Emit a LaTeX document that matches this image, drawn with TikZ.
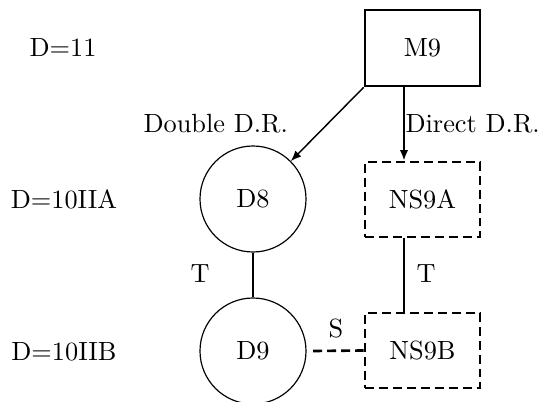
\documentclass[tikz,border=0pt]{standalone}
\usetikzlibrary{arrows.meta}
\begin{document}
\begin{tikzpicture}[x=0.38pt,y=-0.38pt,
  lbl/.style={inner sep=0pt,anchor=base},
  dsh/.style={line width=1pt,dash pattern=on 3.4pt off 1.9pt},
  mbox/.style={draw,line width=1pt,minimum width=115*0.38pt,minimum height=76*0.38pt,inner sep=0pt},
  nsbox/.style={draw,dsh,minimum width=115*0.38pt,minimum height=75*0.38pt,inner sep=0pt},
  dcirc/.style={draw,circle,line width=0.45pt,minimum size=106*0.38pt,inner sep=0pt},
  arr/.style={-{Latex[length=4pt,width=3.2pt]}}
]
\useasboundingbox (0,0) rectangle (538,402);
\node[mbox] (m9) at (422.5,48) {M9};
\node[dcirc] (d8) at (253,199) {D8};
\node[dcirc] (d9) at (253,351) {D9};
\node[nsbox] (ns9a) at (422.5,199.5) {NS9A};
\node[nsbox] (ns9b) at (422.5,350.5) {NS9B};
\coordinate (m9b) at (404,86);
\node[lbl] (l11) at (63,57) {D=11};
\node[lbl] (l10a) at (64,209) {D=10IIA};
\node[lbl] (l10b) at (64,361) {D=10IIB};
\node[lbl,anchor=base west] (dbl) at (143,133) {Double D.R.};
\node[lbl,anchor=base west] (dir) at (405,133) {Direct D.R.};
\node[lbl] (t1) at (200,283) {T};
\node[lbl] (t2) at (426,283) {T};
\node[lbl] (s) at (336,337) {S};
\draw[arr,line width=0.55pt] (m9.south west) -- (d8.45);
\draw[arr,line width=0.8pt] (m9b) -- (m9b |- ns9a.north);
\draw[line width=0.8pt] (d8.south) -- (d9.north);
\draw[line width=0.8pt] (m9b |- ns9a.south) -- (m9b |- ns9b.north);
\draw[dsh] ([xshift=2.5pt]d9.east) -- (ns9b.west);
\end{tikzpicture}
\end{document}
